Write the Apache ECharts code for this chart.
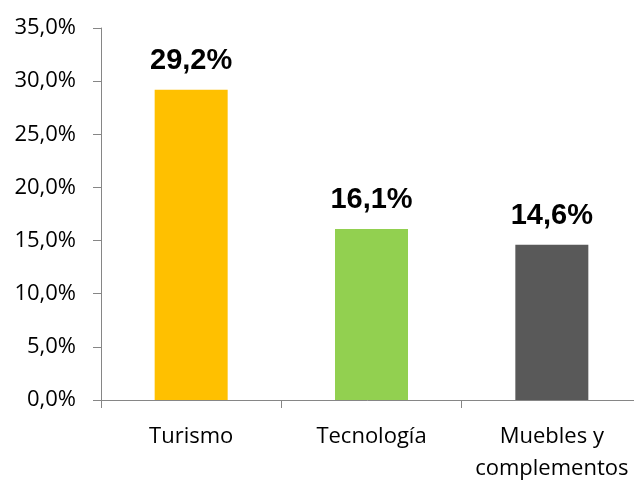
<!DOCTYPE html>
<html>
<head>
<meta charset="utf-8">
<script src="https://cdn.jsdelivr.net/npm/echarts@6/dist/echarts.min.js"></script>
<style>
html,body{margin:0;padding:0;background:#fff;}
#chart{width:634px;height:480px;}
</style>
</head>
<body>
<div id="chart"></div>
<script>
const categories = ['Turismo', 'Tecnología', 'Muebles y\ncomplementos'];
const values = [29.2, 16.1, 14.6];
const barColors = ['#FFC000', '#92D050', '#595959'];
const yTicks = { min: 0, max: 35, interval: 5 };

const fmt = v => v.toFixed(1).replace('.', ',') + '%';

const chart = echarts.init(document.getElementById('chart'), null, { renderer: 'canvas' });
chart.setOption({
  animation: false,
  backgroundColor: '#fff',
  grid: { left: 101, top: 28, width: 541, height: 372, outerBoundsMode: 'none', containLabel: false },
  xAxis: {
    type: 'category',
    data: categories,
    axisLine: { lineStyle: { color: '#868686', width: 1 } },
    axisTick: { show: true, length: 8, lineStyle: { color: '#868686' } },
    axisLabel: {
      color: '#000',
      fontFamily: 'Open Sans',
      fontSize: 22,
      lineHeight: 32,
      margin: 21,
      interval: 0
    }
  },
  yAxis: {
    type: 'value',
    min: yTicks.min,
    max: yTicks.max,
    interval: yTicks.interval,
    splitLine: { show: false },
    axisLine: { show: true, lineStyle: { color: '#868686', width: 1 } },
    axisTick: { show: true, length: 8, lineStyle: { color: '#868686' } },
    axisLabel: {
      color: '#000',
      fontFamily: 'Open Sans',
      fontSize: 22,
      margin: 25,
      formatter: fmt
    }
  },
  series: [{
    type: 'bar',
    barWidth: 73,
    data: values.map((v, i) => ({ value: v, itemStyle: { color: barColors[i] } })),
    label: {
      show: true,
      position: 'top',
      distance: 14,
      color: '#000',
      fontFamily: 'Liberation Sans',
      fontWeight: 'bold',
      fontSize: 29,
      formatter: p => fmt(p.value)
    }
  }]
});
</script>
</body>
</html>
